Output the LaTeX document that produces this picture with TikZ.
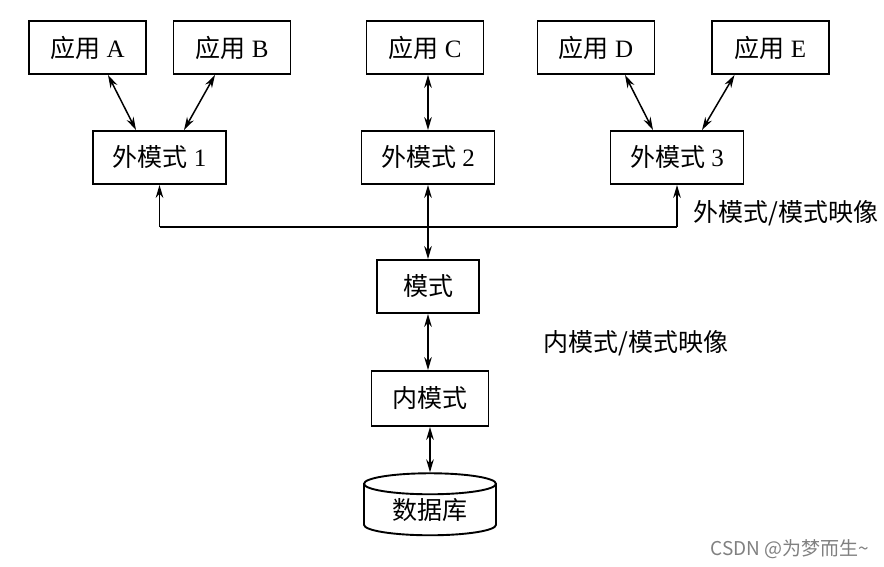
\documentclass[tikz,border=0pt]{standalone}
\usepackage{fontspec}
\setmainfont{Liberation Serif}
\newfontfamily\cjk{Noto Sans CJK SC}
\usetikzlibrary{arrows.meta,shapes.geometric}

\tikzset{
    box/.style={draw, line width=0.95pt, minimum height=26.5pt, inner sep=0pt,
        font=\fontsize{12.5}{14}\selectfont},
    link/.style={line width=0.75pt, {Stealth[length=6.5pt,width=3.8pt]}-{Stealth[length=6.5pt,width=3.8pt]}},
    uplink/.style={line width=0.75pt, -{Stealth[length=6.5pt,width=3.8pt]}},
    maplabel/.style={font=\fontsize{12.5}{14}\selectfont\cjk}
}

\begin{document}
\begin{tikzpicture}[x=0.5pt, y=-0.5pt]
    \useasboundingbox (0,0) rectangle (884,567);

    % Applications
    \node[box, minimum width=58.5pt] (appA) at (87.5,47.5) {{\cjk 应用} A};
    \node[box, minimum width=58.5pt] (appB) at (232,47.5) {{\cjk 应用} B};
    \node[box, minimum width=58.5pt] (appC) at (425,47.5) {{\cjk 应用} C};
    \node[box, minimum width=58.5pt] (appD) at (596,47.5) {{\cjk 应用} D};
    \node[box, minimum width=58.5pt] (appE) at (770.5,47.5) {{\cjk 应用} E};

    % External schemas
    \node[box, minimum width=66.5pt] (ext1) at (159.5,157.5) {{\cjk 外模式} 1};
    \node[box, minimum width=66.5pt] (ext2) at (428,157.5) {{\cjk 外模式} 2};
    \node[box, minimum width=66.5pt] (ext3) at (677,157.5) {{\cjk 外模式} 3};

    % Schema, internal schema, database
    \node[box, minimum width=51pt, font=\fontsize{12.5}{14}\selectfont\cjk] (schema) at (428,286.5) {模式};
    \node[box, minimum width=58.5pt, minimum height=27.5pt, font=\fontsize{12.5}{14}\selectfont\cjk] (inner) at (430,398.5) {内模式};
    \node[cylinder, shape border rotate=90, draw, line width=0.95pt, aspect=0.28,
        minimum width=66pt, minimum height=31pt, inner sep=0pt,
        font=\fontsize{12.5}{14}\selectfont\cjk] (db) at (430,510) {数据库};

    % Mapping labels
    \node[maplabel] (extmap) at (786,213) {外模式/模式映像};
    \node[maplabel] (innmap) at (636,343) {内模式/模式映像};

    % Application links
    \draw[link] ([xshift=10.25pt]appA.south) -- ([xshift=-11.75pt]ext1.north);
    \draw[link] ([xshift=-8.5pt]appB.south) -- ([xshift=12.25pt]ext1.north);
    \draw[link] ([xshift=1.5pt]appC.south) -- (ext2.north);
    \draw[link] ([xshift=14.5pt]appD.south) -- ([xshift=-12pt]ext3.north);
    \draw[link] ([xshift=-18pt]appE.south) -- ([xshift=12.5pt]ext3.north);

    % External/schema mapping bus
    \coordinate (busL) at (159.5,227);
    \coordinate (busR) at (677,227);
    \draw[line width=0.95pt] (busL) -- (busR);
    \draw[uplink] (busL) -- (ext1.south);
    \draw[uplink] (busR) -- (ext3.south);
    \draw[link] (ext2.south) -- (schema.north);

    % Lower links
    \draw[link] (schema.south) -- (schema.south |- inner.north);
    \draw[link] (inner.south) -- (inner.south |- db.top);

    % Watermark
    \node[font=\fontsize{9.5}{11}\selectfont\cjk, text=gray] (mark) at (790,549) {CSDN @为梦而生\textasciitilde};
\end{tikzpicture}
\end{document}
